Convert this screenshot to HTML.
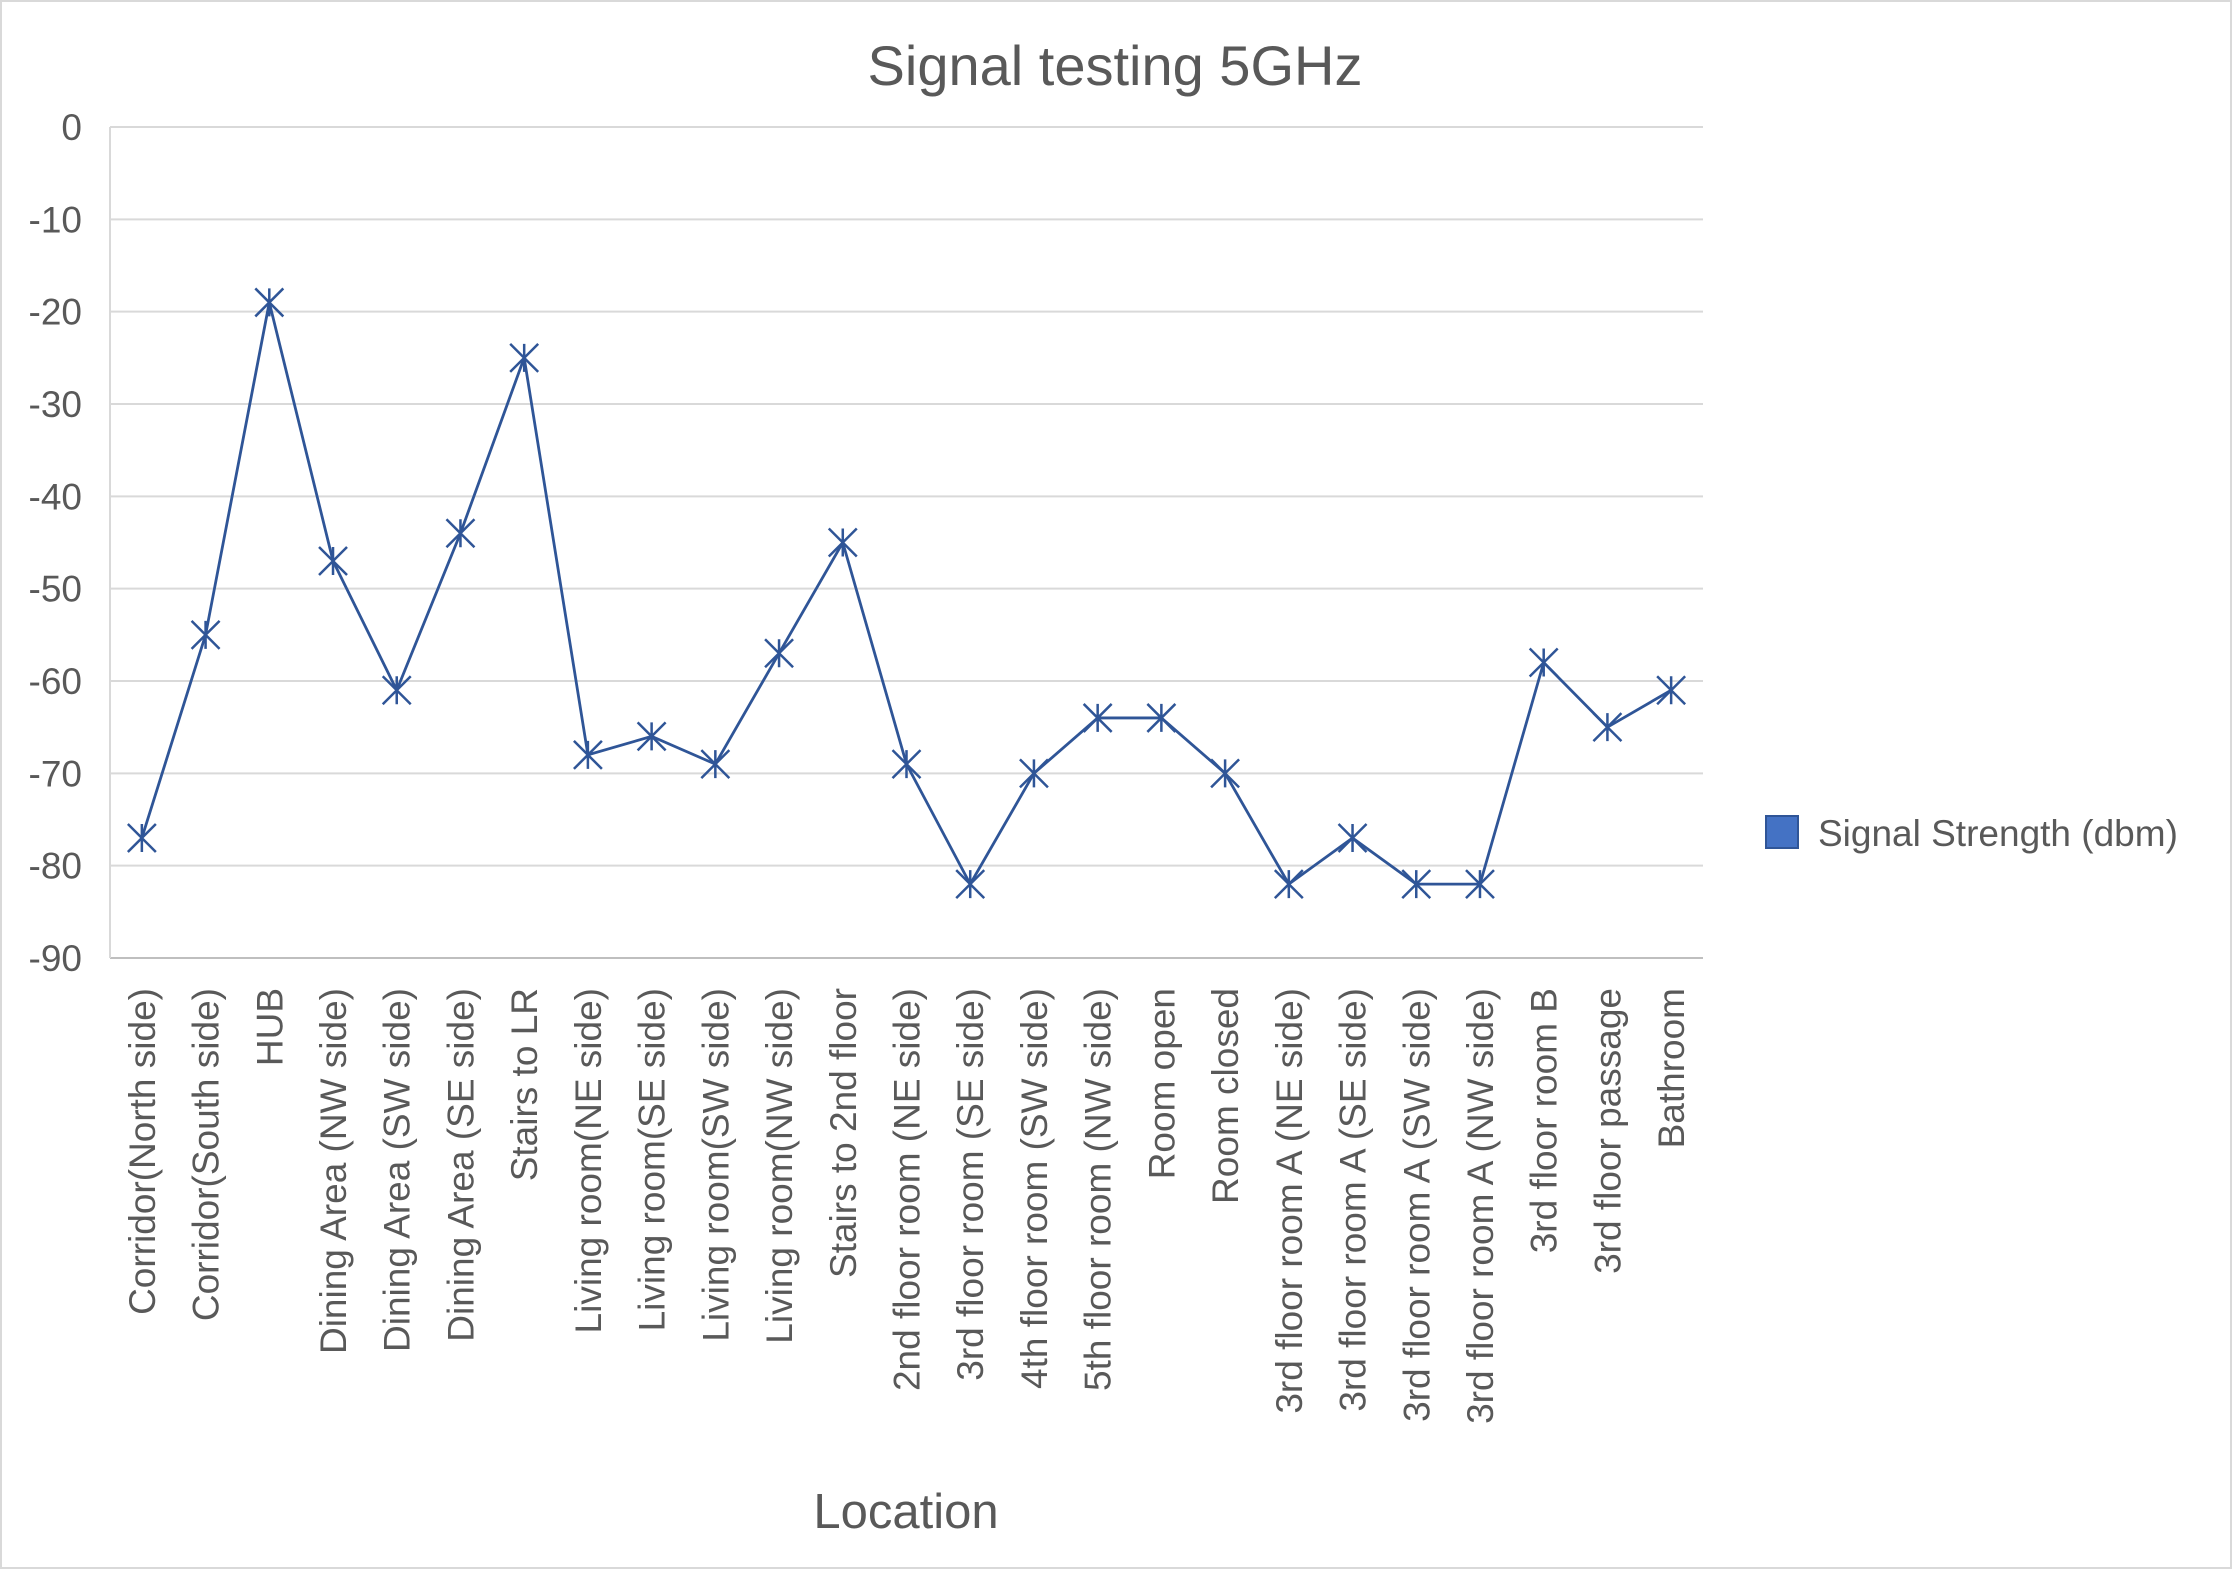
<!DOCTYPE html>
<html><head><meta charset="utf-8"><style>
html,body{margin:0;padding:0;background:#fff;}
svg{display:block;font-family:"Liberation Sans",sans-serif;}
</style></head><body>
<svg id="chart" width="2232" height="1569" viewBox="0 0 2232 1569" xmlns="http://www.w3.org/2000/svg">
<rect x="1" y="1" width="2230" height="1567" fill="#fff" stroke="#d9d9d9" stroke-width="2"/>
<text x="1115" y="85" text-anchor="middle" font-size="56" fill="#595959">Signal testing 5GHz</text>
<g id="grid"></g><g id="yticks"></g><g id="xticks"></g><g id="series"></g>
<text x="906" y="1528" text-anchor="middle" font-size="49" fill="#595959">Location</text>
<rect x="1766" y="816" width="32" height="32" fill="#4472C4" stroke="#2F5597" stroke-width="2"/>
<text x="1818" y="846" font-size="37" fill="#595959">Signal Strength (dbm)</text>
</svg>
<script>
const categories=["Corridor(North side)","Corridor(South side)","HUB","Dining Area (NW side)","Dining Area (SW side)","Dining Area (SE side)","Stairs to LR","Living room(NE side)","Living room(SE side)","Living room(SW side)","Living room(NW side)","Stairs to 2nd floor","2nd floor room (NE side)","3rd floor room (SE side)","4th floor room (SW side)","5th floor room (NW side)","Room open","Room closed","3rd floor room A (NE side)","3rd floor room A (SE side)","3rd floor room A (SW side)","3rd floor room A (NW side)","3rd floor room B","3rd floor passage","Bathroom"];
const values=[-77,-55,-19,-47,-61,-44,-25,-68,-66,-69,-57,-45,-69,-82,-70,-64,-64,-70,-82,-77,-82,-82,-58,-65,-61];
const yTicks=[0,-10,-20,-30,-40,-50,-60,-70,-80,-90];
const NS="http://www.w3.org/2000/svg";
const L=110,R=1703,T=127,B=958;
function y(v){return T+(0-v)/90*(B-T);}
function x(i){const w=(R-L)/categories.length;return L+w*(i+0.5);}
function mk(tag,attrs,parent,txt){const e=document.createElementNS(NS,tag);for(const k in attrs)e.setAttribute(k,attrs[k]);if(txt!==undefined)e.textContent=txt;document.getElementById(parent).appendChild(e);return e;}
yTicks.forEach(t=>{
  const g=mk('line',{x1:L,x2:R,y1:y(t),y2:y(t),stroke:t===-90?'#bfbfbf':'#d9d9d9','stroke-width':2},'grid');
  
  
  const l=mk('text',{x:L-28,y:y(t)+13,'text-anchor':'end','font-size':37,fill:'#595959'},'yticks',String(t));
  
  
});
const ax=mk('line',{x1:L,x2:L,y1:T,y2:B,stroke:'#d9d9d9','stroke-width':2},'grid');


categories.forEach((c,i)=>{
  const t=mk('text',{transform:`translate(${x(i)+13},988) rotate(-90)`,'text-anchor':'end','font-size':37,fill:'#595959'},'xticks',c);
  
  
});
const pts=values.map((v,i)=>x(i)+','+y(v)).join(' ');
const pl=mk('polyline',{points:pts,fill:'none',stroke:'#2F5597','stroke-width':2.8},'series');


values.forEach((v,i)=>{
  const cx=x(i),cy=y(v),s=14;
  const p=mk('path',{d:`M${cx-s} ${cy-s}L${cx+s} ${cy+s}M${cx-s} ${cy+s}L${cx+s} ${cy-s}M${cx} ${cy-s}L${cx} ${cy+s}`,stroke:'#2F5597','stroke-width':2.5,fill:'none'},'series');
  
  
});
</script>
</body></html>
